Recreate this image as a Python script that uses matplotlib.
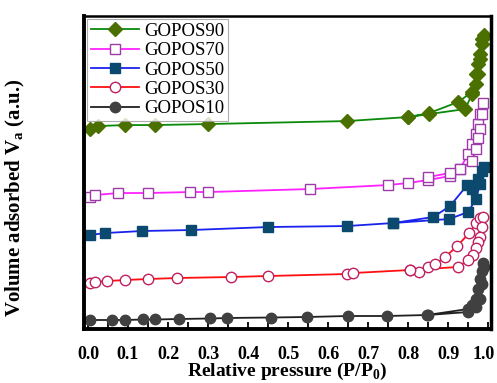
import matplotlib
matplotlib.use("Agg")
import matplotlib.pyplot as plt
from matplotlib.ticker import MultipleLocator
from matplotlib.transforms import ScaledTranslation

# ---- data (relative pressure, volume adsorbed in arbitrary units) ----
g10_x = [0.005, 0.06, 0.093, 0.138, 0.168, 0.228, 0.305, 0.348, 0.458, 0.548, 0.65, 0.748, 0.848,
         0.95, 0.97, 0.98, 0.985, 0.99,
         0.988, 0.985, 0.98, 0.975, 0.97, 0.96, 0.95, 0.85]
g10_y = [9, 9, 9, 9.5, 9.5, 10, 10.5, 11, 11.5, 12, 13, 13, 14,
         20, 22, 30, 45, 62,
         66, 58, 50, 40, 30, 24, 17, 14]

g30_x = [0.005, 0.018, 0.048, 0.093, 0.15, 0.223, 0.358, 0.45, 0.648, 0.663, 0.805, 0.828, 0.85,
         0.868, 0.893, 0.923, 0.953, 0.97, 0.98, 0.988,
         0.985, 0.98, 0.975, 0.97, 0.962, 0.95, 0.925, 0.805]
g30_y = [46, 47, 48, 49, 50, 51, 52, 53, 55, 56, 59, 57, 62,
         65, 72, 83, 96, 106, 111, 112,
         102, 92, 87, 81, 74, 69, 62, 59]

g50_x = [0.005, 0.043, 0.135, 0.258, 0.45, 0.648, 0.763, 0.903, 0.95, 0.97, 0.98, 0.99,
         0.985, 0.975, 0.96, 0.948, 0.905, 0.863, 0.763]
g50_y = [94, 96, 98, 99, 102, 103, 106, 110, 117, 130, 145, 162,
         158, 150, 140, 144, 123, 112, 106]

g70_x = [0.005, 0.018, 0.075, 0.15, 0.255, 0.3, 0.555, 0.75, 0.8, 0.85, 0.905, 0.93, 0.95, 0.96,
         0.97, 0.975, 0.98, 0.988,
         0.985, 0.98, 0.975, 0.97, 0.96, 0.93, 0.905, 0.85]
g70_y = [132, 134, 136, 136, 137, 137, 140, 144, 146, 149, 153, 160, 175, 185,
         195, 205, 215, 226,
         215, 200, 191, 180, 168, 160, 156, 152]

g90_x = [0.005, 0.025, 0.093, 0.168, 0.3, 0.648, 0.8, 0.853, 0.943, 0.96, 0.97, 0.975, 0.98, 0.985, 0.99,
         0.985, 0.98, 0.975, 0.97, 0.96, 0.925, 0.853, 0.8]
g90_y = [200, 203, 204, 204, 205, 208, 212, 215, 220, 235, 255, 265, 275, 290, 294,
         285, 270, 255, 245, 237, 227, 216, 212]

labels = ["GOPOS90", "GOPOS70", "GOPOS50", "GOPOS30", "GOPOS10"]
xticks = [0.0, 0.1, 0.2, 0.3, 0.4, 0.5, 0.6, 0.7, 0.8, 0.9, 1.0]

plt.rcParams['font.family'] = ['Liberation Serif', 'DejaVu Serif']
plt.rcParams['mathtext.fontset'] = 'custom'
plt.rcParams['mathtext.rm'] = 'Liberation Serif'
plt.rcParams['mathtext.bf'] = 'Liberation Serif:bold'

fig = plt.figure(figsize=(4.97, 3.83), dpi=100)
ax = fig.add_axes([0.169, 0.141, 0.819, 0.817])

ax.plot(g90_x, g90_y, color='#0a8a0a', lw=1.3, marker='D', ms=7,
        mfc='#4a7000', mec='#4a7000', label=labels[0])
ax.plot(g70_x, g70_y, color='#ff22ff', lw=1.3, marker='s', ms=7,
        mfc='white', mec='#9b3ca8', mew=1.0, label=labels[1])
ax.plot(g50_x, g50_y, color='#1a22ee', lw=1.3, marker='s', ms=7,
        mfc='#0b4a6e', mec='#0b4a6e', label=labels[2])
ax.plot(g30_x, g30_y, color='#ff1010', lw=1.3, marker='o', ms=7.5,
        mfc='white', mec='#c02060', mew=1.0, label=labels[3])
ax.plot(g10_x, g10_y, color='#202020', lw=1.3, marker='o', ms=7.5,
        mfc='#404040', mec='#404040', label=labels[4])

ax.set_xlim(-0.01, 1.0075)
ax.set_ylim(0, 313)

ax.set_xticks(xticks)
ax.set_xticklabels([f"{t:.1f}" for t in xticks], fontweight='bold', fontsize=13)
ax.xaxis.set_minor_locator(MultipleLocator(0.05))
ax.tick_params(axis='x', which='both', direction='in', length=5, width=1.3, pad=12)
ax.set_yticks([])
last = ax.get_xticklabels()[-1]
last.set_transform(last.get_transform() + ScaledTranslation(-0.04, 0, fig.dpi_scale_trans))

for side, lw in [('left', 2.8), ('bottom', 2.8), ('top', 1.8), ('right', 2.5)]:
    ax.spines[side].set_linewidth(lw)

ax.set_xlabel("Relative pressure (P/P$_\\mathbf{0}$)", fontweight='bold', fontsize=14, labelpad=-1)
ax.set_ylabel("Volume adsorbed V$_\\mathbf{a}$ (a.u.)", fontweight='bold', fontsize=15)
ax.yaxis.set_label_coords(-0.14, 0.42)

leg = ax.legend(loc='upper left', fontsize=13.5, frameon=True, fancybox=False,
                edgecolor='#999999', borderaxespad=0.15, handlelength=2.6,
                handletextpad=0.25, labelspacing=0.12, borderpad=0.2)
leg.get_frame().set_linewidth(0.8)

fig.savefig("out.png", dpi=100)
